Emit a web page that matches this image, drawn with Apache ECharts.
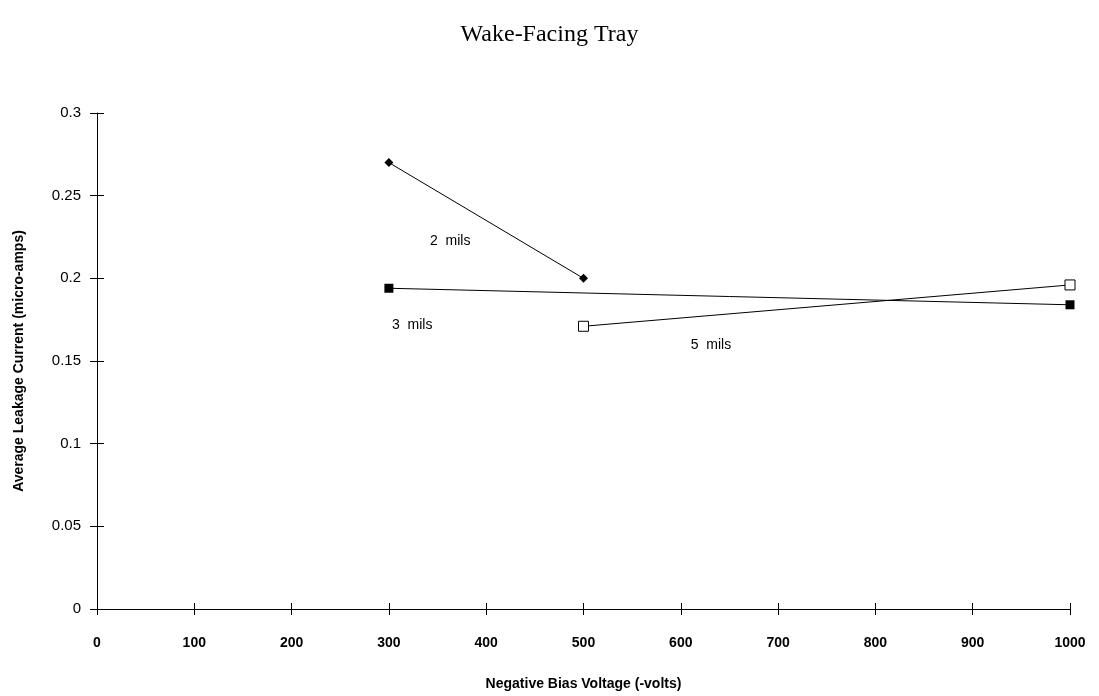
<!DOCTYPE html>
<html><head><meta charset="utf-8">
<script src="https://cdn.jsdelivr.net/npm/echarts@6/dist/echarts.min.js"></script>
<style>html,body{margin:0;padding:0;background:#fff}#c{width:1099px;height:696px}</style>
</head><body><div id="c"></div>
<script>
const title = "Wake-Facing Tray";
const xName = "Negative Bias Voltage (-volts)";
const yName = "Average Leakage Current (micro-amps)";
const mils2 = [[300, 0.270], [500, 0.200]];
const mils3 = [[300, 0.194], [1000, 0.184]];
const mils5 = [[500, 0.171], [1000, 0.196]];
const seriesLabels = [
  { name: "2  mils", pos: [363, 0.2227] },
  { name: "3  mils", pos: [324, 0.1714] },
  { name: "5  mils", pos: [631, 0.1594] }
];

const chart = echarts.init(document.getElementById('c'));
const font = 'Liberation Sans, Arial, sans-serif';
const grid = { left: 97, right: 29, top: 113, bottom: 86 };
chart.setOption({
  animation: false,
  backgroundColor: '#fff',
  title: { text: title, left: 'center', top: 18,
    textStyle: { fontFamily: 'Liberation Serif, Times New Roman, serif', fontWeight: 'normal', fontSize: 24, color: '#000' } },
  grid: grid,
  xAxis: [{
    type: 'value', min: 0, max: 1000, interval: 100,
    name: xName, nameLocation: 'middle', nameGap: 68,
    nameTextStyle: { color: '#000', fontFamily: font, fontWeight: 'bold', fontSize: 14 },
    axisLine: { lineStyle: { color: '#000', width: 1 } },
    axisTick: { length: 6, lineStyle: { color: '#000' } },
    axisLabel: { color: '#000', fontFamily: font, fontSize: 14, fontWeight: 'bold', margin: 27,
      formatter: v => String(v) },
    splitLine: { show: false }
  }, {
    type: 'value', min: 0, max: 1000, interval: 100, position: 'bottom',
    axisLine: { show: false },
    axisTick: { show: true, inside: true, length: 6, lineStyle: { color: '#000' } },
    axisLabel: { show: false }, splitLine: { show: false }
  }],
  yAxis: [{
    type: 'value', min: 0, max: 0.3, interval: 0.05,
    name: yName, nameLocation: 'middle', nameGap: 71,
    nameTextStyle: { color: '#000', fontFamily: font, fontWeight: 'bold', fontSize: 14 },
    axisLine: { show: true, lineStyle: { color: '#000', width: 1 } },
    axisTick: { show: true, length: 7, lineStyle: { color: '#000' } },
    axisLabel: { color: '#000', fontFamily: font, fontSize: 15, margin: 16 },
    splitLine: { show: false }
  }, {
    type: 'value', min: 0, max: 0.3, interval: 0.05, position: 'left',
    axisLine: { show: false },
    axisTick: { show: true, inside: true, length: 7, lineStyle: { color: '#000' } },
    axisLabel: { show: false }, splitLine: { show: false }
  }],
  series: [
    { type: 'line', name: '2 mils', data: mils2, symbol: 'diamond', symbolSize: 9,
      lineStyle: { color: '#000', width: 1 }, itemStyle: { color: '#000' } },
    { type: 'line', name: '3 mils', data: mils3, symbol: 'rect', symbolSize: 9,
      lineStyle: { color: '#000', width: 1 }, itemStyle: { color: '#000' } },
    { type: 'line', name: '5 mils', data: mils5, symbol: 'rect', symbolSize: 10,
      lineStyle: { color: '#000', width: 1 }, itemStyle: { color: '#fff', borderColor: '#000', borderWidth: 1 } },
    { type: 'scatter', symbolSize: 1, silent: true, itemStyle: { color: 'rgba(0,0,0,0)', opacity: 1 },
      data: seriesLabels.map(d => ({ value: d.pos,
        label: { show: true, formatter: d.name, color: '#000', fontFamily: font, fontSize: 14, position: 'inside', textBorderWidth: 0 } })) }
  ]
});
</script></body></html>
